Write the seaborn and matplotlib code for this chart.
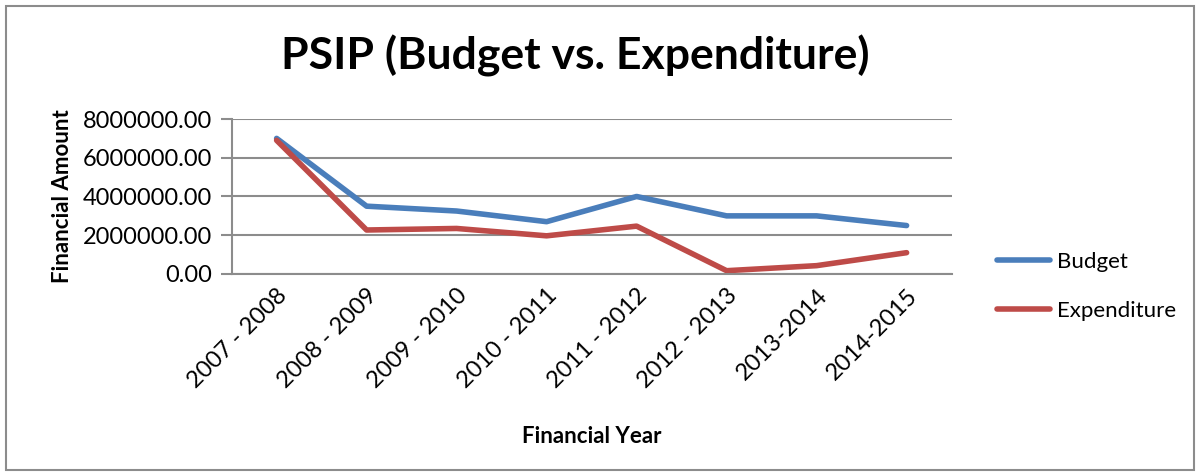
import pandas as pd
import matplotlib.pyplot as plt
import seaborn as sns
import matplotlib.ticker as mticker
from matplotlib.patches import Rectangle

# values
years = ['2007 - 2008', '2008 - 2009', '2009 - 2010', '2010 - 2011',
         '2011 - 2012', '2012 - 2013', '2013-2014', '2014-2015']
budget = [7000000, 3500000, 3250000, 2700000, 4000000, 3000000, 3000000, 2500000]
expenditure = [6900000, 2270000, 2350000, 1970000, 2470000, 170000, 430000, 1100000]

df = pd.DataFrame({'year': years * 2,
                   'amount': budget + expenditure,
                   'series': ['Budget'] * len(years) + ['Expenditure'] * len(years)})

sns.set_style('white')
plt.rcParams['font.family'] = ['Lato', 'DejaVu Sans']
plt.rcParams['text.color'] = 'black'
plt.rcParams['axes.labelcolor'] = 'black'
plt.rcParams['xtick.color'] = 'black'
plt.rcParams['ytick.color'] = 'black'

fig = plt.figure(figsize=(12, 4.76), dpi=100)
ax = fig.add_axes([0.193, 0.4244, 0.6, 0.3256])

sns.lineplot(data=df, x='year', y='amount', hue='series', sort=False,
             palette={'Budget': '#4a7ebb', 'Expenditure': '#be4b48'},
             linewidth=4, ax=ax)

ax.set_xlim(-0.5, len(years) - 0.5)
ax.set_ylim(0, 8000000)
ax.yaxis.set_major_locator(mticker.MultipleLocator(2000000))
ax.yaxis.set_major_formatter(mticker.FuncFormatter(lambda v, p: f'{v:.2f}'))
ax.grid(axis='y', color='#8c8c8c', linewidth=1.5)
ax.set_axisbelow(True)
for side in ['top', 'right']:
    ax.spines[side].set_visible(False)
for side in ['left', 'bottom']:
    ax.spines[side].set_color('#8c8c8c')
    ax.spines[side].set_linewidth(1.5)
ax.tick_params(axis='y', labelsize=17, length=8, width=1.5, color='#8c8c8c',
               labelcolor='black', direction='out', left=True, pad=6)
ax.tick_params(axis='x', labelsize=17, length=0, labelcolor='black', pad=8)
plt.setp(ax.get_xticklabels(), rotation=45, ha='right', rotation_mode='anchor')

ax.set_xlabel('Financial Year', fontsize=16, fontweight='bold', labelpad=24)
ax.set_ylabel('Financial Amount', fontsize=16, fontweight='bold', labelpad=7)
fig.text(0.479, 0.883, 'PSIP (Budget vs. Expenditure)', fontsize=32, fontweight='bold',
         ha='center', va='center')

leg = ax.legend(loc='center left', bbox_to_anchor=(1.035, -0.08), frameon=False,
                fontsize=16, handlelength=2.4, labelspacing=1.3, handletextpad=0.3)
for line in leg.get_lines():
    line.set_linewidth(4)

fig.patches.append(Rectangle((0.005, 0.012), 0.99, 0.976, transform=fig.transFigure,
                             fill=False, edgecolor='#8c8c8c', linewidth=1.5))

plt.savefig('out.png', dpi=100)
